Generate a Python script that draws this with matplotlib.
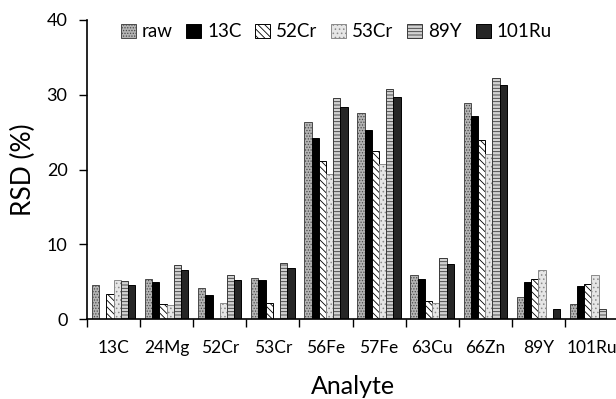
import matplotlib
matplotlib.use("Agg")
import matplotlib.pyplot as plt
import numpy as np

plt.rcParams['font.family'] = ['Lato', 'DejaVu Sans']
plt.rcParams['hatch.linewidth'] = 0.6

analytes = ['13C', '24Mg', '52Cr', '53Cr', '56Fe', '57Fe', '63Cu', '66Zn', '89Y', '101Ru']
series = ['raw', '13C', '52Cr', '53Cr', '89Y', '101Ru']

# RSD (%) per internal standard, 0 where the analyte is its own standard
raw   = [4.6, 5.4, 4.1, 5.45, 26.3, 27.6, 5.85, 28.9, 3.0, 2.0]
c13   = [0.0, 4.95, 3.25, 5.2, 24.2, 25.3, 5.3, 27.2, 5.0, 4.45]
cr52  = [3.3, 2.0, 0.0, 2.2, 21.2, 22.5, 2.45, 24.0, 5.4, 4.7]
cr53  = [5.2, 1.9, 2.2, 0.0, 19.4, 20.7, 2.15, 22.1, 6.5, 5.9]
y89   = [5.1, 7.2, 5.9, 7.45, 29.5, 30.8, 8.1, 32.3, 0.0, 1.4]
ru101 = [4.6, 6.5, 5.2, 6.8, 28.4, 29.7, 7.3, 31.3, 1.4, 0.0]

values = [raw, c13, cr52, cr53, y89, ru101]
styles = [
    dict(facecolor='#b4b4b4', hatch='......', edgecolor='#4a4a4a'),
    dict(facecolor='black', edgecolor='black'),
    dict(facecolor='white', hatch='\\\\\\\\\\', edgecolor='black'),
    dict(facecolor='#e6e6e6', hatch='....', edgecolor='#8a8a8a'),
    dict(facecolor='#d2d2d2', hatch='-----', edgecolor='#3a3a3a'),
    dict(facecolor='#262626', edgecolor='black'),
]

fig = plt.figure(figsize=(6.16, 3.99), dpi=100)
ax = fig.add_axes([87/616, 80/399, 531/616, 299/399])

x = np.arange(len(analytes))
w = 0.136
for i, (name, vals) in enumerate(zip(series, values)):
    ax.bar(x + (i - 2.5) * w, vals, width=w, label=name, linewidth=0.7, **styles[i])

ax.set_ylim(0, 40)
ax.set_yticks([0, 10, 20, 30, 40])
ax.set_xlim(-0.5, 9.5)
ax.set_xticks(np.arange(-0.5, 10, 1))
ax.set_xticklabels([])
ax.set_xticks(x, minor=True)
ax.set_xticklabels(analytes, minor=True)
ax.tick_params(axis='x', which='minor', length=0, pad=15, labelsize=12.5)
ax.tick_params(axis='x', which='major', length=6, width=1)
ax.tick_params(axis='y', length=6, width=1, labelsize=13, pad=8)

for s in ['top', 'right']:
    ax.spines[s].set_visible(False)
for s in ['left', 'bottom']:
    ax.spines[s].set_linewidth(1.2)

ax.set_ylabel('RSD (%)', fontsize=19, labelpad=8)
ax.set_xlabel('Analyte', fontsize=18, labelpad=14)

ax.legend(loc='upper center', bbox_to_anchor=(0.469, 1.045), ncol=6, frameon=False,
          handlelength=0.8, handleheight=0.8, handletextpad=0.3, columnspacing=0.75,
          fontsize=13.5)

fig.savefig('out.png', dpi=100)
